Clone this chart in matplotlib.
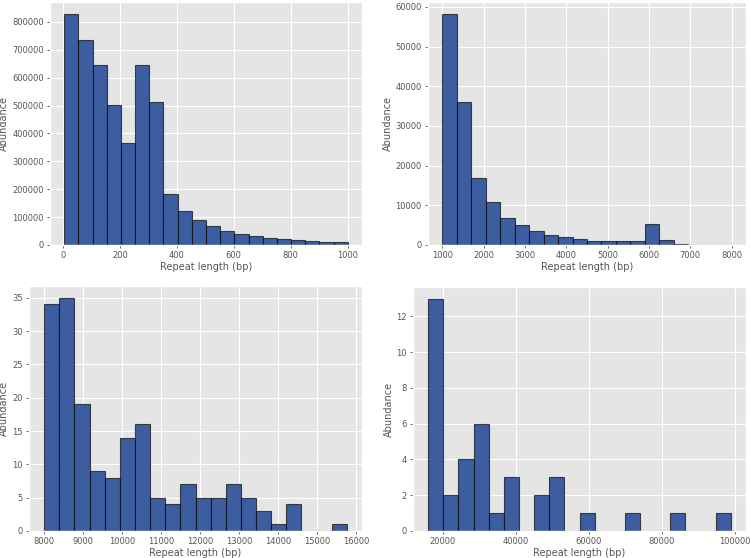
import numpy as np
import matplotlib
matplotlib.use("Agg")
import matplotlib.pyplot as plt

plt.style.use("ggplot")

# Panel data: bin range and counts per bin (20 bins each)
range1 = (5, 1000)
counts1 = [830000, 737000, 647000, 503000, 365000, 647000, 513000, 182000, 121000, 88000,
           68000, 50000, 38000, 31000, 26000, 21000, 18000, 15000, 12000, 11000]

range2 = (1000, 8000)
counts2 = [58300, 36000, 17000, 10900, 6900, 5100, 3600, 2500, 2000, 1500,
           1000, 900, 900, 900, 5200, 1200, 200, 60, 30, 10]

range3 = (8000, 15760)
counts3 = [34, 35, 19, 9, 8, 14, 16, 5, 4, 7, 5, 5, 7, 5, 3, 1, 4, 0, 0, 1]

range4 = (16000, 99000)
counts4 = [13, 2, 4, 6, 1, 3, 0, 2, 3, 0, 1, 0, 0, 1, 0, 0, 1, 0, 0, 1]

xlabel = "Repeat length (bp)"
ylabel = "Abundance"

fig = plt.figure(figsize=(7.5, 5.58), dpi=100)
W, H = 750, 558

def px_axes(l, t, r, b):
    return fig.add_axes([l / W, 1 - b / H, (r - l) / W, (b - t) / H])

panels = [
    (px_axes(50, 2, 362, 245), range1, counts1, [0, 200, 400, 600, 800, 1000]),
    (px_axes(428, 2, 746, 245), range2, counts2, [1000, 2000, 3000, 4000, 5000, 6000, 7000, 8000]),
    (px_axes(29, 286, 362, 531), range3, counts3, list(range(8000, 16001, 1000))),
    (px_axes(413, 287, 746, 531), range4, counts4, [20000, 40000, 60000, 80000, 100000]),
]

for ax, rng, counts, ticks in panels:
    edges = np.linspace(rng[0], rng[1], len(counts) + 1)
    centers = 0.5 * (edges[:-1] + edges[1:])
    ax.hist(centers, bins=edges, weights=counts, color="#3c5da0",
            edgecolor=(0, 0, 0, 0.65), linewidth=0.8)
    ax.set_xticks(ticks)
    ax.set_xlabel(xlabel, fontsize=7, color="#555555", labelpad=1.5)
    ax.set_ylabel(ylabel, fontsize=7, color="#555555", labelpad=2)
    ax.tick_params(labelsize=6, colors="#555555", labelcolor="#555555",
                   length=2.5, width=0.6, pad=2)

fig.savefig("out.png", dpi=100)
